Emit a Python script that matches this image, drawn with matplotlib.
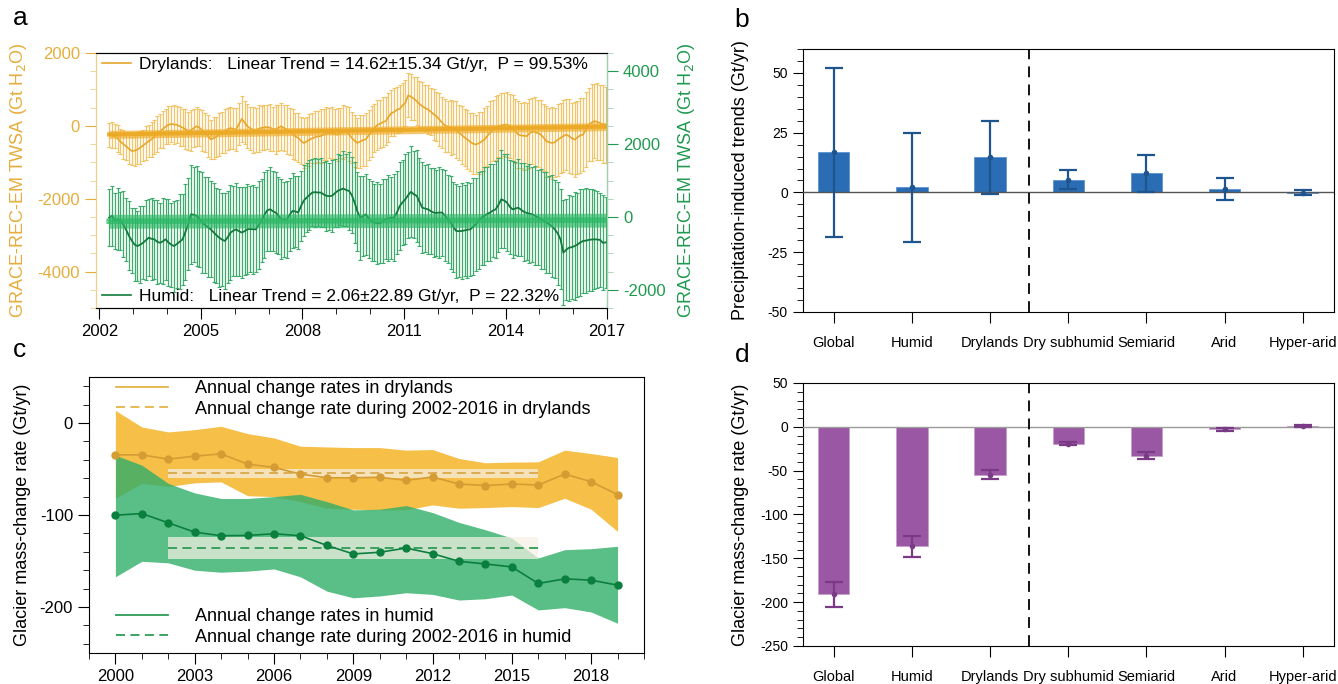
import numpy as np
import pandas as pd
import matplotlib
matplotlib.use("Agg")
import matplotlib.pyplot as plt
from matplotlib.lines import Line2D
from matplotlib.ticker import MultipleLocator

plt.rcParams['font.family'] = ['Liberation Sans', 'DejaVu Sans']
plt.rcParams['axes.unicode_minus'] = False

# ---------------- panel a data (monthly, Apr 2002 - Dec 2016) ----------------
months = pd.date_range('2002-04-01', periods=177, freq='MS')

dry_twsa = [-240, -250, -280, -350, -430, -500, -560, -630, -690,
            -680, -650, -600, -540, -480, -420, -370, -300, -220, -150, -90, -20,
            30, 50, 40, 30, -10, -50, -90, -140, -120, -60, -10, -50,
            -130, -190, -280, -370, -340, -300, -240, -180, -150, -90, -60, -80,
            -100, 50, 190, 90, -10, -70, -110, -120, -80, -55, -40, -30,
            -50, -80, -100, -50, -10, -60, -110, -150, -220, -290, -330, -410,
            -470, -430, -380, -340, -310, -290, -280, -240, -210, -190, -200, -230,
            -240, -200, -170, -150, -230, -330, -410, -470, -430, -390, -370, -260,
            -150, -60, 20, 60, 100, 130, 240, 350, 380, 440, 470, 560,
            630, 840, 800, 750, 680, 600, 540, 490, 450, 390, 320, 265,
            180, 90, 10, -20, -40, -55, -110, -190, -250, -320, -375, -440,
            -490, -510, -480, -430, -380, -280, -190, -120, -60, -10, 10, 30,
            35, 0, -55, -140, -240, -260, -275, -280, -210, -150, -170, -200,
            -240, -320, -420, -450, -470, -450, -380, -330, -280, -240, -280, -340,
            -375, -320, -260, -240, -100, 35, 90, 130, 110, 80, 40, 30]
dry_err = [330, 360, 340, 380, 350, 400, 370, 410, 390,
           420, 400, 450, 430, 470, 440, 480, 460, 500, 470, 510, 490,
           520, 500, 540, 510, 530, 500, 550, 520, 560, 530, 540, 510,
           560, 530, 570, 540, 580, 550, 590, 560, 600, 570, 580, 560,
           600, 570, 620, 590, 610, 580, 630, 600, 640, 610, 620, 600,
           640, 610, 660, 630, 650, 620, 670, 640, 690, 650, 670, 640,
           690, 660, 710, 680, 720, 690, 730, 700, 720, 690, 710, 680,
           720, 690, 730, 700, 740, 700, 720, 690, 730, 700, 720, 690,
           700, 670, 690, 660, 680, 650, 670, 640, 660, 630, 650, 620,
           640, 610, 630, 600, 650, 620, 660, 630, 680, 650, 700, 670,
           720, 690, 740, 710, 760, 730, 780, 750, 800, 770, 820, 790,
           830, 800, 850, 820, 860, 830, 870, 840, 880, 850, 890, 860,
           900, 870, 910, 880, 920, 890, 930, 900, 940, 910, 950, 920,
           960, 930, 970, 940, 980, 950, 990, 960, 1000, 970, 1010, 980,
           1020, 990, 1030, 1000, 1040, 1010, 1050, 1020, 1060, 1030, 1070, 1040]
hum_twsa = [-20, 30, -110, -60, -120, -200, -350, -520, -650,
            -760, -800, -760, -710, -640, -570, -600, -615, -680, -710, -670, -615,
            -700, -760, -800, -740, -680, -615, -420, -200, 70, 60, 30, -60,
            -155, -220, -280, -340, -420, -500, -570, -620, -660, -560, -430, -380,
            -340, -390, -430, -390, -340, -330, -340, -340, -220, -110, 50, 180,
            210, 160, 120, 30, -60, -70, -60, 60, 165, 150, 120, 300,
            450, 530, 600, 670, 680, 670, 670, 620, 580, 570, 580, 650,
            715, 750, 780, 740, 715, 600, 395, 150, -20, 20, 70, -40,
            -120, -155, -170, -175, -120, -60, -40, -20, -20, 120, 300, 400,
            485, 600, 690, 620, 580, 420, 255, 230, 210, 160, 120, 110,
            120, 120, 40, -60, -155, -270, -385, -390, -385, -370, -350, -340,
            -270, -200, -100, -20, 30, 80, 120, 170, 210, 330, 485, 450,
            395, 280, 210, 230, 255, 200, 140, 110, 90, 70, 30, -10,
            -60, -100, -150, -200, -260, -340, -450, -615, -980, -900, -845, -830,
            -800, -760, -700, -660, -650, -630, -620, -615, -620, -630, -710, -700]
hum_err = [780, 820, 760, 850, 800, 900, 860, 950, 900,
           1000, 960, 1050, 1000, 1100, 1050, 1120, 1080, 1150, 1100, 1180, 1120,
           1200, 1150, 1250, 1200, 1300, 1250, 1320, 1270, 1350, 1300, 1380, 1320,
           1380, 1330, 1370, 1320, 1360, 1300, 1340, 1280, 1320, 1260, 1300, 1240,
           1280, 1220, 1260, 1200, 1240, 1180, 1220, 1160, 1200, 1140, 1180, 1120,
           1150, 1090, 1120, 1060, 1090, 1030, 1060, 1000, 1030, 980, 1000, 960,
           980, 940, 960, 920, 950, 910, 940, 900, 960, 920, 980, 940,
           1000, 960, 1040, 1000, 1080, 1040, 1120, 1080, 1150, 1100, 1120, 1080,
           1100, 1060, 1120, 1080, 1150, 1100, 1180, 1130, 1200, 1150, 1220, 1170,
           1240, 1190, 1250, 1200, 1260, 1210, 1250, 1200, 1240, 1190, 1230, 1180,
           1240, 1190, 1260, 1210, 1280, 1230, 1300, 1250, 1310, 1260, 1320, 1270,
           1330, 1280, 1340, 1290, 1340, 1290, 1330, 1280, 1330, 1280, 1340, 1290,
           1340, 1290, 1330, 1280, 1330, 1280, 1340, 1290, 1350, 1300, 1360, 1310,
           1370, 1320, 1380, 1330, 1400, 1350, 1420, 1370, 1440, 1390, 1460, 1410,
           1480, 1430, 1470, 1420, 1440, 1390, 1400, 1350, 1340, 1290, 1300, 1260]

dry_trend, dry_trend_err, dry_p = 14.62, 15.34, 99.53
hum_trend, hum_trend_err, hum_p = 2.06, 22.89, 22.32

# ---------------- panel b / d data ----------------
regions = ['Global', 'Humid', 'Drylands', 'Dry subhumid', 'Semiarid', 'Arid', 'Hyper-arid']
precip_trend = [16.8, 2.1, 14.62, 5.3, 8.0, 1.5, -0.1]
precip_err = [35.4, 22.9, 15.34, 4.0, 7.7, 4.5, 1.0]
glacier_rate = [-191.2, -136.5, -54.9, -19.4, -33.0, -3.0, 1.0]
glacier_err = [14.0, 12.4, 5.2, 1.9, 3.8, 1.3, 0.9]

# ---------------- panel c data ----------------
years = np.arange(2000, 2020)
dry_rate = [-34.6, -34.6, -39.3, -36.0, -33.5, -44.7, -48.3, -55.5, -59.5, -59.5,
            -59.0, -62.3, -58.7, -66.3, -68.0, -66.3, -67.4, -55.5, -63.8, -77.8]
dry_hi = [13.7, -4.3, -9.7, -7.2, -3.6, -11.5, -16.2, -25.2, -26.0, -26.7,
          -26.7, -29.5, -28.8, -38.6, -43.2, -42.5, -42.2, -29.5, -33.2, -37.5]
dry_lo = [-81.8, -65.6, -69.0, -65.0, -64.0, -79.0, -80.0, -85.4, -92.6, -93.7,
          -94.4, -94.4, -89.0, -92.6, -91.9, -90.8, -91.9, -81.8, -93.7, -117.8]
hum_rate = [-100.2, -98.4, -108.5, -118.6, -122.5, -122.2, -120.4, -122.5, -133.0, -142.3,
            -140.5, -135.9, -142.0, -150.3, -153.2, -156.4, -174.4, -169.4, -170.8, -176.2]
hum_hi = [-35.0, -45.8, -65.6, -76.0, -82.0, -82.0, -80.0, -77.5, -85.4, -94.4,
          -93.7, -89.7, -97.3, -108.0, -116.0, -125.0, -146.7, -137.7, -136.6, -134.0]
hum_lo = [-167.2, -150.3, -152.0, -160.0, -162.2, -161.0, -158.6, -167.2, -182.7, -190.0,
          -188.0, -184.5, -186.3, -192.4, -191.0, -187.0, -203.2, -200.7, -205.4, -217.7]
period = [2002, 2016]
dry_period_rate, dry_period_err = -54.8, 4.5
hum_period_rate, hum_period_err = -136.0, 12.0

# colours
c_dry_bar, c_dry_line, c_dry_axis = '#f0c467', '#e8a72a', '#e6ad3c'
c_hum_bar, c_hum_line, c_hum_axis = '#3dab6c', '#117a3b', '#1f9a4f'

fig = plt.figure(figsize=(13.38, 6.84), dpi=100)

# ======================= panel a =======================
ax = fig.add_axes([0.0717, 0.5497, 0.382, 0.3728])
ax2 = ax.twinx()
t = np.asarray(months.year + (months.month - 0.5) / 12.0, dtype=float)
dry = np.array(dry_twsa, float)
hum = np.array(hum_twsa, float)

ax.errorbar(t, dry, yerr=dry_err, fmt='none', ecolor=c_dry_bar, elinewidth=0.9,
            capsize=1.2, capthick=0.8, zorder=2)
ax.plot(t, dry, color=c_dry_line, lw=1.2, zorder=3)
dry_fit = dry.mean() + dry_trend * (t - t.mean())
ax.fill_between(t, dry_fit - 110, dry_fit + 110, color='#f0b030', alpha=0.7, lw=0, zorder=4)
ax.plot(t, dry_fit, color='#eca822', lw=3, alpha=0.9, zorder=4)

ax2.errorbar(t, hum, yerr=hum_err, fmt='none', ecolor=c_hum_bar, elinewidth=0.9,
             capsize=1.2, capthick=0.8, zorder=2)
ax2.plot(t, hum, color=c_hum_line, lw=1.3, zorder=3)
hum_fit = hum.mean() + hum_trend * (t - t.mean())
ax2.fill_between(t, hum_fit - 190, hum_fit + 190, color='#2db866', alpha=0.65, lw=0, zorder=4)
ax2.plot(t, hum_fit, color='#2db866', lw=4, alpha=0.75, zorder=4)

ax.set_xlim(2001.9, 2017)
ax.set_ylim(-5000, 2000)
ax2.set_ylim(-2500, 4500)
ax.set_xticks(np.arange(2002, 2018, 3))
ax.xaxis.set_minor_locator(MultipleLocator(1))
ax.yaxis.set_major_locator(MultipleLocator(2000))
ax.yaxis.set_minor_locator(MultipleLocator(500))
ax2.set_yticks([-2000, 0, 2000, 4000])
ax2.yaxis.set_minor_locator(MultipleLocator(500))
ax.tick_params(axis='x', which='both', direction='out', labelsize=12)
ax.tick_params(axis='x', which='major', length=8)
ax.tick_params(axis='x', which='minor', length=4)
ax.tick_params(axis='y', which='both', colors=c_dry_axis, direction='out', labelsize=12)
ax.tick_params(axis='y', which='major', length=8)
ax.tick_params(axis='y', which='minor', length=4, color='#f0d08f')
ax2.tick_params(axis='y', which='both', colors=c_hum_axis, direction='out', labelsize=12)
ax2.tick_params(axis='y', which='major', length=8)
ax2.tick_params(axis='y', which='minor', length=4, color='#9fd4b0')
ax.spines['left'].set_color('#f0cf8a')
ax2.spines['left'].set_color('#f0cf8a')
ax2.spines['right'].set_color('#9fd4b0')
ax.set_ylabel('GRACE-REC-EM TWSA (Gt H$_2$O)', color=c_dry_axis, fontsize=13)
ax.yaxis.set_label_coords(-0.131, 0.5)
ax2.set_ylabel('GRACE-REC-EM TWSA (Gt H$_2$O)', color=c_hum_axis, fontsize=13, rotation=90)
ax2.yaxis.set_label_coords(1.135, 0.5)

leg1 = ax2.legend([Line2D([], [], color=c_dry_line, lw=1.2)],
                  [f'Drylands:   Linear Trend = {dry_trend:.2f}\u00b1{dry_trend_err:.2f} Gt/yr,  P = {dry_p:.2f}%'],
                  loc='upper left', bbox_to_anchor=(0.008, 0.99), frameon=False, fontsize=12.5,
                  handlelength=1.7, handletextpad=0.45, borderaxespad=0, borderpad=0.1)
ax2.add_artist(leg1)
ax2.legend([Line2D([], [], color=c_hum_line, lw=1.2)],
           [f'Humid:   Linear Trend = {hum_trend:.2f}\u00b1{hum_trend_err:.2f} Gt/yr,  P = {hum_p:.2f}%'],
           loc='lower left', bbox_to_anchor=(0.008, 0.01), frameon=False, fontsize=12.5,
           handlelength=1.7, handletextpad=0.45, borderaxespad=0, borderpad=0.1)


# ======================= panels b, d =======================
def bar_panel(rect, vals, errs, color, edge, ecolor, ylim, major, minor, ylabel, zcolor):
    bx = fig.add_axes(rect)
    x = np.arange(len(regions))
    bx.bar(x, vals, width=0.4, color=color, edgecolor=edge, lw=0.6, zorder=2)
    bx.axhline(0, color=zcolor, lw=1.0, zorder=3)
    bx.errorbar(x, vals, yerr=errs, fmt='o', ms=3, color=ecolor, ecolor=ecolor,
                elinewidth=1.6, capsize=6.5, capthick=1.6, zorder=4)
    bx.axvline(2.5, color='black', lw=1.3, ls=(0, (6, 4)), zorder=3)
    bx.set_xlim(-0.4, 6.4)
    bx.set_ylim(*ylim)
    bx.set_xticks(x)
    bx.set_xticklabels(regions, fontsize=10.5)
    bx.yaxis.set_major_locator(MultipleLocator(major))
    bx.yaxis.set_minor_locator(MultipleLocator(minor))
    bx.tick_params(axis='x', direction='out', length=8, pad=9)
    bx.tick_params(axis='y', which='both', direction='out', labelsize=10)
    bx.tick_params(axis='y', which='major', length=7)
    bx.tick_params(axis='y', which='minor', length=4)
    bx.set_ylabel(ylabel, fontsize=13)
    bx.yaxis.set_label_coords(-0.101, 0.5)
    return bx


axb = bar_panel([0.5998, 0.5439, 0.3972, 0.3845], precip_trend, precip_err,
                '#2a6db5', '#5b93cf', '#1f558f', (-50, 60), 25, 5,
                'Precipitation-induced trends (Gt/yr)', '#555555')
axb.set_yticks([-50, -25, 0, 25, 50])

axd = bar_panel([0.5998, 0.0556, 0.3972, 0.3845], glacier_rate, glacier_err,
                '#9a57a3', '#c7a0cc', '#7a3a86', (-250, 50), 50, 10,
                'Glacier mass-change rate (Gt/yr)', '#9a9a9a')

# ======================= panel c =======================
axc = fig.add_axes([0.0665, 0.0453, 0.4148, 0.4035])
axc.fill_between(years, dry_lo, dry_hi, color='#f5bf48', lw=0, zorder=1)
axc.fill_between(years, hum_lo, hum_hi, color='#31ae69', alpha=0.8, lw=0, zorder=2)
axc.plot(years, dry_rate, color='#d49c33', lw=1.2, marker='o', ms=5, zorder=5)
axc.plot(years, hum_rate, color='#0b7f3e', lw=1.2, marker='o', ms=5, zorder=5)
axc.fill_between(period, dry_period_rate - dry_period_err, dry_period_rate + dry_period_err,
                 color='#f7f1e4', alpha=0.72, lw=0, zorder=3)
axc.fill_between(period, hum_period_rate - hum_period_err, hum_period_rate + hum_period_err,
                 color='#f7f1e4', alpha=0.72, lw=0, zorder=3)
axc.plot(period, [dry_period_rate] * 2, color='#d9a84a', lw=1.3, ls=(0, (5, 3)), zorder=4)
axc.plot(period, [hum_period_rate] * 2, color='#2e9c55', lw=1.3, ls=(0, (5, 3)), zorder=4)
axc.set_xlim(1999, 2020)
axc.set_ylim(-250, 50)
axc.set_xticks(np.arange(2000, 2020, 3))
axc.xaxis.set_minor_locator(MultipleLocator(1))
axc.yaxis.set_major_locator(MultipleLocator(100))
axc.yaxis.set_minor_locator(MultipleLocator(20))
axc.tick_params(axis='both', which='both', direction='out', labelsize=12)
axc.tick_params(axis='both', which='major', length=8)
axc.tick_params(axis='both', which='minor', length=4)
axc.set_ylabel('Glacier mass-change rate (Gt/yr)', fontsize=13)
axc.yaxis.set_label_coords(-0.105, 0.5)

legc1 = axc.legend([Line2D([], [], color='#e6b448', lw=1.3),
                    Line2D([], [], color='#e6b448', lw=1.3, ls=(0, (5, 3)))],
                   ['Annual change rates in drylands',
                    'Annual change rate during 2002-2016 in drylands'],
                   loc='upper left', bbox_to_anchor=(0.045, 0.995), frameon=False, fontsize=13,
                   handlelength=2.9, handletextpad=1.5, labelspacing=0.2,
                   borderaxespad=0, borderpad=0.1)
axc.add_artist(legc1)
axc.legend([Line2D([], [], color='#2e9c55', lw=1.3),
            Line2D([], [], color='#2e9c55', lw=1.3, ls=(0, (5, 3)))],
           ['Annual change rates in humid',
            'Annual change rate during 2002-2016 in humid'],
           loc='lower left', bbox_to_anchor=(0.045, 0.02), frameon=False, fontsize=13,
           handlelength=2.9, handletextpad=1.5, labelspacing=0.2,
           borderaxespad=0, borderpad=0.1)

# panel letters
for lab, x, y in [('a', 20, 18), ('b', 742, 20), ('c', 20, 350), ('d', 742, 355)]:
    fig.text(x / 1338, 1 - y / 684, lab, fontsize=19, ha='center', va='center')

fig.savefig('out.png', dpi=100)
